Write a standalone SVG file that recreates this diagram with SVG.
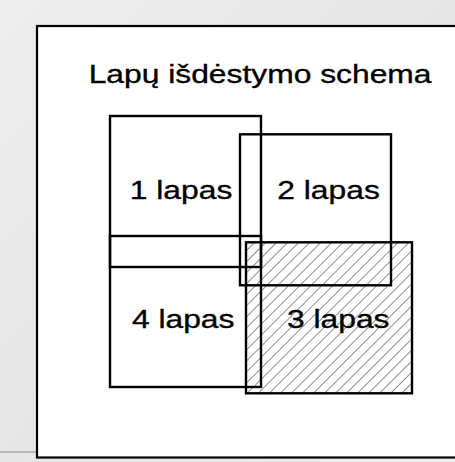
<svg xmlns="http://www.w3.org/2000/svg" width="455" height="462" viewBox="0 0 455 462">
  <defs>
    <pattern id="hatch" patternUnits="userSpaceOnUse" width="7.8" height="7.8" patternTransform="rotate(45)">
      <line x1="0" y1="0" x2="0" y2="7.8" stroke="#7a7a7a" stroke-width="1.7"/>
    </pattern>
    <linearGradient id="bg" x1="0" y1="0" x2="1" y2="1">
      <stop offset="0" stop-color="#eeeeee"/>
      <stop offset="0.5" stop-color="#e6e6e6"/>
      <stop offset="1" stop-color="#ececec"/>
    </linearGradient>
  </defs>
  <style>
    .sheet { fill: none; stroke: #000; stroke-width: 2.4; }
    .lbl { font-family: "Liberation Sans", Arial, sans-serif; font-size: 26.5px; fill: #000; stroke: #000; stroke-width: 0.35; }
  </style>
  <rect x="0" y="0" width="455" height="462" fill="url(#bg)"/>
  <line x1="0" y1="452" x2="37" y2="452" stroke="#8a8a8a" stroke-width="1"/>
  <g id="frame">
    <rect x="37" y="26" width="430" height="431.5" fill="#ffffff" stroke="#000" stroke-width="2.2"/>
  </g>
  <g id="title">
    <text class="lbl" x="88.7" y="83" textLength="342.8" lengthAdjust="spacingAndGlyphs">Lapų išdėstymo schema</text>
  </g>
  <g id="sheet3">
    <rect x="246" y="242.3" width="166" height="151" fill="url(#hatch)" stroke="none"/>
    <rect class="sheet" x="246" y="242.3" width="166" height="151"/>
    <text class="lbl" x="287" y="327.5" textLength="102.5" lengthAdjust="spacingAndGlyphs">3 lapas</text>
  </g>
  <g id="sheet1">
    <rect class="sheet" x="110" y="116" width="151" height="151"/>
    <text class="lbl" x="129.8" y="198.5" textLength="102.5" lengthAdjust="spacingAndGlyphs">1 lapas</text>
  </g>
  <g id="sheet2">
    <rect class="sheet" x="240" y="134.3" width="151" height="151"/>
    <text class="lbl" x="277.3" y="199" textLength="102.5" lengthAdjust="spacingAndGlyphs">2 lapas</text>
  </g>
  <g id="sheet4">
    <rect class="sheet" x="110" y="236" width="151" height="151"/>
    <text class="lbl" x="131.9" y="327.5" textLength="102.5" lengthAdjust="spacingAndGlyphs">4 lapas</text>
  </g>
</svg>
